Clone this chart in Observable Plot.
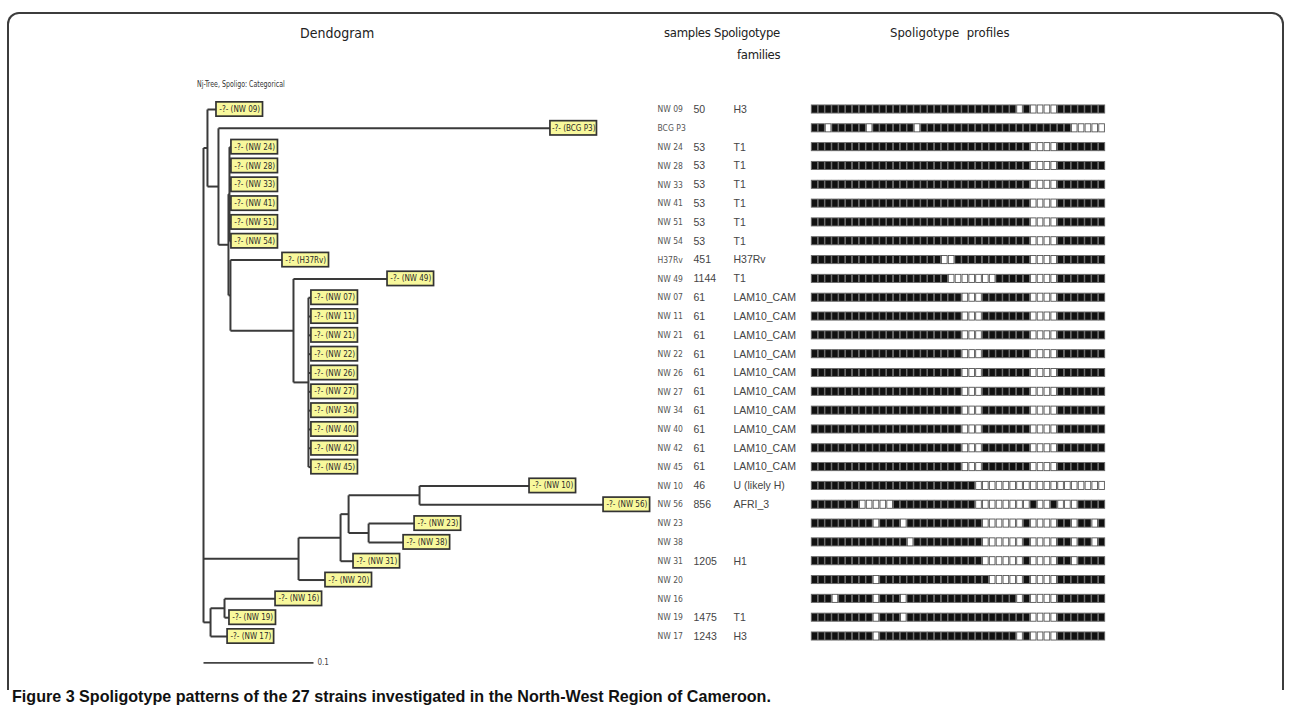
<!DOCTYPE html>
<html><head><meta charset="utf-8">
<script src="https://cdn.jsdelivr.net/npm/d3@7"></script>
<script src="https://cdn.jsdelivr.net/npm/@observablehq/plot@0.6"></script>
<style>
body{margin:0;background:#fff;}
#wrap{position:relative;width:1290px;height:710px;overflow:hidden;font-family:"DejaVu Sans Condensed","DejaVu Sans",sans-serif;}
#frame{position:absolute;left:7px;top:12px;width:1273px;height:676px;border:2px solid #3c3c3c;border-bottom:none;border-radius:12px 12px 0 0;}
.hd{position:absolute;font-size:13px;color:#222;white-space:pre;}
#treetitle{position:absolute;left:197px;top:79px;font-size:8.2px;color:#333;transform:scaleX(0.85);transform-origin:0 0;}
#caption{position:absolute;left:12px;top:687px;font:bold 16.1px "Liberation Sans",Arial,sans-serif;color:#111;white-space:pre;}
.layer{position:absolute;left:0;top:0;}
</style></head><body>
<div id="wrap">
<div id="frame"></div>
<div class="hd" style="left:300px;top:25px;font-size:14px">Dendogram</div>
<div class="hd" style="left:664px;top:25px;letter-spacing:-0.3px">samples</div>
<div class="hd" style="left:714px;top:25px;letter-spacing:-0.3px">Spoligotype</div>
<div class="hd" style="left:737px;top:47px;letter-spacing:-0.3px">families</div>
<div class="hd" style="left:890px;top:25px">Spoligotype  profiles</div>
<div id="treetitle">Nj-Tree, Spoligo: Categorical</div>
<div id="treeLayer" class="layer"></div>
<div id="tableLayer" class="layer"></div>
<div id="caption">Figure 3 Spoligotype patterns of the 27 strains investigated in the North-West Region of Cameroon.</div>
</div>
<script>
// ---------- data ----------
// NJ tree (Newick), branch lengths in tree distance units
const newick = "((NW 09:0.0082,(BCG P3:0.3018,((NW 24:0.0018,NW 28:0.0018,NW 33:0.0018,NW 41:0.0018,NW 51:0.0018,NW 54:0.0018):0.0009,(H37Rv:0.0473,(NW 49:0.0855,(NW 07:0.0027,NW 11:0.0027,NW 21:0.0027,NW 22:0.0027,NW 26:0.0027,NW 27:0.0027,NW 34:0.0027,NW 40:0.0027,NW 42:0.0027,NW 45:0.0027):0.0136):0.0573):0.0018):0.0091):0.010):0.0036,((((NW 10:0.1,NW 56:0.1673):0.0645,(NW 23:0.0418,NW 38:0.0318):0.0182):0.0073,NW 31:0.0118):0.0382,NW 20:0.0245):0.0864,((NW 16:0.0464,NW 19:0.0045):0.0127,NW 17:0.0155):0.0064):0.0036);";
const scaleBarLength = 0.1;

const strains = ["NW 09","BCG P3","NW 24","NW 28","NW 33","NW 41","NW 51","NW 54","H37Rv","NW 49","NW 07","NW 11","NW 21","NW 22","NW 26","NW 27","NW 34","NW 40","NW 42","NW 45","NW 10","NW 56","NW 23","NW 38","NW 31","NW 20","NW 16","NW 19","NW 17"];
const samples = ["50","","53","53","53","53","53","53","451","1144","61","61","61","61","61","61","61","61","61","61","46","856","","","1205","","","1475","1243"];
const families = ["H3","","T1","T1","T1","T1","T1","T1","H37Rv","T1","LAM10_CAM","LAM10_CAM","LAM10_CAM","LAM10_CAM","LAM10_CAM","LAM10_CAM","LAM10_CAM","LAM10_CAM","LAM10_CAM","LAM10_CAM","U (likely H)","AFRI_3","","","H1","","","T1","H3"];
// 43-spacer spoligotype profiles (1 = present, 0 = absent)
const profiles = [
 "1111111111111111111111111111110100001111111", // NW 09
 "1101111101111110111111111111111111111100000", // BCG P3
 "1111111111111111111111111111111100001111111", // NW 24
 "1111111111111111111111111111111100001111111", // NW 28
 "1111111111111111111111111111111100001111111", // NW 33
 "1111111111111111111111111111111100001111111", // NW 41
 "1111111111111111111111111111111100001111111", // NW 51
 "1111111111111111111111111111111100001111111", // NW 54
 "1111111111111111111001111111111100001111111", // H37Rv
 "1111111111111111111100000001111100001111111", // NW 49
 "1111111111111111111111000111111100001111111", // NW 07
 "1111111111111111111111000111111100001111111", // NW 11
 "1111111111111111111111000111111100001111111", // NW 21
 "1111111111111111111111000111111100001111111", // NW 22
 "1111111111111111111111000111111100001111111", // NW 26
 "1111111111111111111111000111111100001111111", // NW 27
 "1111111111111111111111000111111100001111111", // NW 34
 "1111111111111111111111000111111100001111111", // NW 40
 "1111111111111111111111000111111100001111111", // NW 42
 "1111111111111111111111000111111100001111111", // NW 45
 "1111111111111111111111110000000000000000000", // NW 10
 "1111111000001111111111110000000010010001111", // NW 56
 "1111111110111011111111111000000100001101101", // NW 23
 "1111111111111101111111111000000100001101101", // NW 38
 "1111111111111111111111111000000100001101111", // NW 31
 "1111111110111111111111111100000100001111111", // NW 20
 "1110111110111011111111111111110100001111111", // NW 16
 "1111111110111011111111111111111100001111111", // NW 19
 "1111111110111111111111111111110100001111111"  // NW 17
];

// ---------- tree parsing & layout ----------
function parseNewick(s){
  let i = 0;
  function node(){
    const n = {children: []};
    if (s[i] === "(") { i++; do { n.children.push(node()); } while (s[i++] === ","); }
    let name = "";
    while (i < s.length && !":,);".includes(s[i])) name += s[i++];
    n.name = name.trim();
    if (s[i] === ":") { i++; let num = ""; while (i < s.length && !",);".includes(s[i])) num += s[i++]; n.len = +num; }
    else n.len = 0;
    return n;
  }
  return node();
}
const root = parseNewick(newick);
root.len = 0;
let leafCounter = 0;
const hSegs = [], vSegs = [], leaves = [];
(function layout(n, px){
  n.x = px + n.len;
  if (!n.children.length) { n.y = leafCounter++; leaves.push(n); }
  else {
    n.children.forEach(c => layout(c, n.x));
    n.y = (n.children[0].y + n.children[n.children.length - 1].y) / 2;
    vSegs.push({x: n.x, y1: n.children[0].y, y2: n.children[n.children.length - 1].y});
  }
  if (n !== root) hSegs.push({x1: px, x2: n.x, y: n.y});
})(root, 0);

const nRows = strains.length;
const yScale = {domain: [0, nRows - 1], range: [109, 636], axis: null};
const boxW = 0.0423, boxH = 0.38;

const treePlot = Plot.plot({
  width: 1290, height: 690, margin: 0,
  style: {background: "transparent", overflow: "visible"},
  x: {domain: [0, 0.4], range: [203, 643], axis: null},
  y: yScale,
  marks: [
    Plot.link(hSegs, {x1: "x1", x2: "x2", y1: "y", y2: "y", stroke: "#3a3a3a", strokeWidth: 2}),
    Plot.link(vSegs, {x1: "x", x2: "x", y1: "y1", y2: "y2", stroke: "#3a3a3a", strokeWidth: 2}),
    Plot.rect(leaves, {x1: d => d.x, x2: d => d.x + boxW, y1: d => d.y - boxH, y2: d => d.y + boxH, fill: "#f8f89c", stroke: "#333", strokeWidth: 1.7}),
    Plot.text(leaves, {x: d => d.x + boxW / 2, y: "y", text: d => `-?- (${d.name})`, fontSize: 8, fill: "#2a2a2a", fontFamily: "DejaVu Sans Condensed", letterSpacing: "-0.3px"}),
    Plot.link([{x1: 0, x2: scaleBarLength, y: nRows + 0.4}], {x1: "x1", x2: "x2", y1: "y", y2: "y", stroke: "#444", strokeWidth: 1.8}),
    Plot.text([{x: scaleBarLength, y: nRows + 0.4, t: String(scaleBarLength)}], {x: "x", y: "y", text: "t", dx: 4, textAnchor: "start", fontSize: 8, fill: "#444", fontFamily: "DejaVu Sans Condensed"})
  ]
});
document.getElementById("treeLayer").appendChild(treePlot);

// ---------- table + profile ----------
const rows = strains.map((s, i) => ({i, strain: s, sample: samples[i], family: families[i]}));
const cells = [];
profiles.forEach((p, i) => p.split("").forEach((c, k) => cells.push({i, k, on: c === "1"})));
const cellH = 0.215;

const tablePlot = Plot.plot({
  width: 1290, height: 690, margin: 0,
  style: {background: "transparent", overflow: "visible"},
  x: {domain: [0, 43], range: [811, 1105], axis: null},
  y: yScale,
  marks: [
    Plot.rect(cells.filter(d => !d.on), {x1: "k", x2: d => d.k + 1, y1: d => d.i - cellH, y2: d => d.i + cellH, fill: "white", stroke: "#555", strokeWidth: 0.9, insetLeft: 0.6, insetRight: 0.6}),
    Plot.rect(cells.filter(d => d.on), {x1: "k", x2: d => d.k + 1, y1: d => d.i - cellH, y2: d => d.i + cellH, fill: "#111", stroke: "#6a6a6a", strokeWidth: 0.9, insetLeft: 0.3, insetRight: 0.3}),
    Plot.text(rows, {x: () => 0, y: "i", text: "strain", dx: -154, textAnchor: "start", fontSize: 8.5, fill: "#555", fontFamily: "DejaVu Sans Condensed"}),
    Plot.text(rows, {x: () => 0, y: "i", text: "sample", dx: -118, textAnchor: "start", fontSize: 10.5, fill: "#444", fontFamily: "Liberation Sans"}),
    Plot.text(rows, {x: () => 0, y: "i", text: "family", dx: -78, textAnchor: "start", fontSize: 10.5, fill: "#444", fontFamily: "Liberation Sans"})
  ]
});
document.getElementById("tableLayer").appendChild(tablePlot);
</script>
</body></html>
